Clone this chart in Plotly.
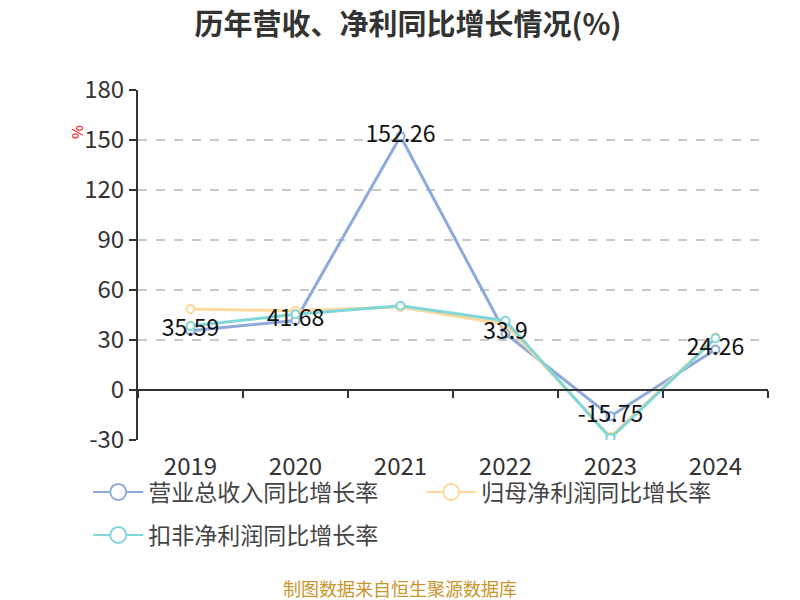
import plotly.graph_objects as go

# chart data
years = ['2019', '2020', '2021', '2022', '2023', '2024']
revenue_growth = [35.59, 41.68, 152.26, 33.9, -15.75, 24.26]
net_profit_growth = [48.6, 47.5, 49.8, 39.5, -28.0, 31.5]
deducted_profit_growth = [38.4, 45.4, 50.6, 41.6, -29.0, 31.0]
y_ticks = [-30, 0, 30, 60, 90, 120, 150, 180]

series_names = ['营业总收入同比增长率', '归母净利润同比增长率', '扣非净利润同比增长率']
series_colors = ['#8eaadb', '#ffd99b', '#80d6d8']
series_values = [revenue_growth, net_profit_growth, deducted_profit_growth]
legend_ids = ['legend', 'legend', 'legend2']

FONT = 'Noto Sans CJK SC'

fig = go.Figure()

# lines with small hollow markers
for name, color, values in zip(series_names, series_colors, series_values):
    fig.add_trace(go.Scatter(
        x=years, y=values, mode='lines+markers', name=name,
        line=dict(color=color, width=3),
        marker=dict(size=8, color='white', line=dict(color=color, width=2)),
        showlegend=False,
    ))

# value labels for revenue growth, drawn on top
fig.add_trace(go.Scatter(
    x=years, y=revenue_growth, mode='text',
    text=[f'{v:g}' for v in revenue_growth],
    textposition='middle center',
    textfont=dict(family=FONT, size=23, color='#111111'),
    showlegend=False, hoverinfo='skip',
))

# legend-only entries with bigger circles (third one on its own row)
for name, color, lg in zip(series_names, series_colors, legend_ids):
    fig.add_trace(go.Scatter(
        x=[None], y=[None], mode='lines+markers', name=name, legend=lg,
        line=dict(color=color, width=2),
        marker=dict(size=20, color='white', line=dict(color=color, width=2)),
    ))

legend_style = dict(
    orientation='h', x=-0.079, xanchor='left', yanchor='middle',
    entrywidth=268, entrywidthmode='pixels', itemwidth=50,
    bgcolor='rgba(0,0,0,0)',
    font=dict(family=FONT, size=23, color='#444444'),
)

fig.update_layout(
    width=800, height=600,
    paper_bgcolor='white', plot_bgcolor='white',
    # page body adds an 8px offset, so margins are shifted by 8px
    margin=dict(l=130, r=40, t=82, b=168, autoexpand=False),
    font=dict(family=FONT, color='#333333'),
    title=dict(
        text='<b>历年营收、净利同比增长情况(%)</b>',
        x=0.5, xanchor='center', y=0.972, yanchor='middle',
        font=dict(family=FONT, size=29, color='#333333'),
    ),
    xaxis=dict(
        type='category', categoryorder='array', categoryarray=years,
        range=[-0.5, 5.5], showgrid=False, showline=False, zeroline=False,
        ticks='', ticklabelstandoff=10,
        tickfont=dict(family=FONT, size=24, color='#333333'),
    ),
    xaxis2=dict(
        type='category', categoryorder='array', categoryarray=years,
        matches='x', overlaying='x', anchor='free', position=30 / 210,
        showgrid=False, showline=True, linecolor='#333333', linewidth=2,
        ticks='outside', ticklen=7, tickwidth=2, tickcolor='#333333',
        tickson='boundaries', showticklabels=False, zeroline=False,
    ),
    yaxis=dict(
        range=[-30, 180], tickvals=y_ticks, ticktext=[str(v) for v in y_ticks],
        showgrid=True, gridcolor='#c8c8c8', griddash='dash', gridwidth=1.5,
        zeroline=False, showline=True, linecolor='#333333', linewidth=2,
        ticks='outside', ticklen=7, tickwidth=2, tickcolor='#333333',
        tickfont=dict(family=FONT, size=24, color='#333333'),
    ),
    legend=dict(legend_style, y=(440 - 492) / 350),
    legend2=dict(legend_style, y=(440 - 535) / 350),
    annotations=[
        dict(
            text='%', xref='paper', yref='paper',
            x=(76 - 138) / 630, y=(440 - 132) / 350, xanchor='center', yanchor='middle',
            showarrow=False, textangle=-90,
            font=dict(family=FONT, size=15, color='#ff0000'),
        ),
        dict(
            text='制图数据来自恒生聚源数据库', xref='paper', yref='paper',
            x=(400 - 138) / 630, y=(440 - 588) / 350,
            xanchor='center', yanchor='middle', showarrow=False,
            font=dict(family=FONT, size=18, color='#c9952c'),
        ),
    ],
)

# invisible trace so the zero-line axis is drawn
fig.add_trace(go.Scatter(x=years, y=[0] * len(years), xaxis='x2', mode='none',
                         showlegend=False, hoverinfo='skip'))

fig.write_html('out.html')
